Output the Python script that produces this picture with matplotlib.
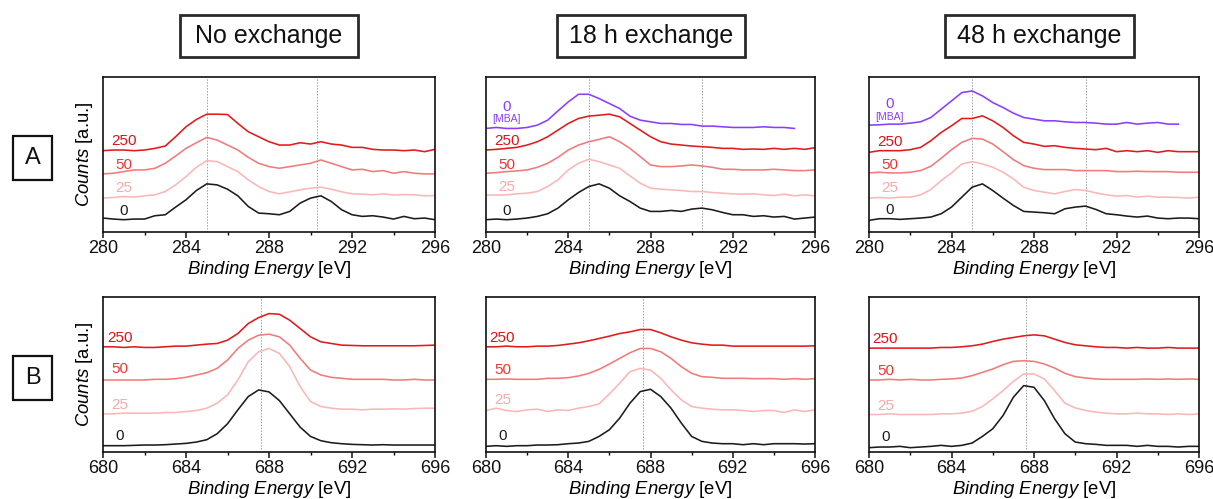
import numpy as np
import matplotlib
matplotlib.use("Agg")
import matplotlib.pyplot as plt
from matplotlib.patches import Rectangle

plt.rcParams['font.family'] = ['Liberation Sans', 'DejaVu Sans']
plt.rcParams['mathtext.fontset'] = 'custom'
plt.rcParams['mathtext.rm'] = 'Liberation Sans'
plt.rcParams['mathtext.it'] = 'Liberation Sans:italic'

# ---------------- data ----------------
energy_C = np.arange(280, 296.01, 0.5)      # C 1s region
energy_C_mba = np.arange(280, 295.01, 0.5)  # MBA reference spectrum (shorter)
energy_F = np.arange(680, 696.01, 0.5)      # F 1s region

col_titles = ["No exchange", "18 h exchange", "48 h exchange"]
row_labels = ["A", "B"]
series_labels = ["0", "25", "50", "250"]
x_ticks_C = [280, 284, 288, 292, 296]
x_ticks_F = [680, 684, 688, 692, 696]
ref_lines_C = [[285.0, 290.3], [285.0, 290.5], [285.0, 290.5]]
ref_lines_F = [687.6, 687.65, 687.63]

# Row A, no exchange
a_no_0 = [42,39,37,39,39,49,52,75,97,125,145,142,129,109,77,57,55,52,62,87,102,109,92,67,52,47,49,45,39,47,40,42,37]
a_no_25 = [102,104,107,105,109,112,122,142,167,195,215,212,197,182,157,137,122,115,121,127,132,135,129,121,115,114,112,115,111,113,112,109,110]
a_no_50 = [175,177,182,187,187,192,207,229,252,269,285,277,262,247,225,207,197,192,197,202,207,217,207,197,187,189,182,185,177,182,177,175,175]
a_no_250 = [245,247,247,245,247,252,259,287,317,339,355,355,354,327,302,287,272,262,262,269,265,272,265,262,255,255,249,247,247,245,247,242,249]

# Row A, 18 h exchange
a_18_mba = [312,315,312,312,315,322,337,365,392,415,415,402,387,372,349,337,332,327,327,324,324,319,319,317,315,315,315,317,315,315,312]
a_18_0 = [37,39,37,39,42,47,55,72,97,119,137,145,132,109,92,72,62,62,65,62,69,72,67,59,52,52,47,49,45,47,39,42,45]
a_18_25 = [112,111,112,115,117,122,137,157,187,207,219,212,202,192,169,147,132,129,127,125,122,122,119,117,115,114,115,112,110,114,109,112,109]
a_18_50 = [177,179,182,184,187,195,207,225,247,262,272,279,287,272,252,227,202,197,197,199,202,199,195,189,189,187,187,187,189,187,185,185,187]
a_18_250 = [247,249,252,255,262,272,287,307,327,342,349,352,355,347,327,307,287,272,265,262,259,257,255,252,252,249,250,249,252,249,252,249,254]

# Row A, 48 h exchange
a_48_mba = [322,323,325,325,328,332,345,370,395,420,425,410,390,375,358,345,340,335,335,332,330,330,328,325,325,330,325,328,330,325,325]
a_48_0 = [35,40,40,38,40,42,45,55,75,105,135,145,125,102,80,62,60,58,55,70,75,78,68,55,52,48,45,48,42,40,42,42,40]
a_48_25 = [102,104,102,105,105,112,128,155,178,205,212,205,195,180,160,135,125,120,115,122,128,125,118,112,108,110,105,108,105,105,104,102,105]
a_48_50 = [178,180,178,178,180,185,198,222,248,270,282,280,265,242,218,200,192,188,188,188,185,185,185,185,182,182,183,182,182,182,180,180,180]
a_48_250 = [240,245,245,245,248,255,275,300,320,342,342,350,335,315,290,270,265,258,260,255,252,250,248,252,242,245,242,245,240,245,242,242,242]

# Row B, no exchange
b_no_0 = [19,19,19,20,21,21,22,24,26,30,37,55,85,127,167,187,181,155,115,75,47,34,28,25,23,22,21,22,21,21,21,21,21]
b_no_25 = [115,115,117,117,117,117,119,119,122,125,132,147,172,217,272,302,312,297,257,197,152,137,132,129,129,127,129,129,130,129,131,132,132]
b_no_50 = [217,217,217,217,217,219,219,221,225,232,239,252,277,312,337,352,355,347,322,282,247,232,225,222,219,219,219,219,217,217,219,217,217]
b_no_250 = [317,317,315,317,315,315,317,319,319,322,325,327,337,357,387,405,417,415,397,372,347,332,327,322,321,320,320,320,320,320,320,321,322]

# Row B, 18 h exchange
b_18_0 = [17,19,17,19,19,21,21,22,25,27,32,47,67,102,147,182,189,167,132,87,47,32,27,25,25,22,25,22,25,25,25,24,25]
b_18_25 = [125,132,125,122,127,129,122,127,125,132,137,145,175,207,242,252,247,222,187,157,137,132,129,127,127,125,122,125,125,119,127,122,127]
b_18_50 = [219,219,220,219,219,219,222,222,224,229,237,249,265,282,299,312,312,302,282,257,237,227,225,222,222,222,221,221,221,219,221,219,221]
b_18_250 = [317,317,319,317,317,319,319,321,325,329,335,342,349,357,362,369,369,359,347,337,329,325,322,322,319,319,319,319,319,319,319,319,320]

# Row B, 48 h exchange
b_48_0 = [13,15,15,17,13,15,17,20,17,20,27,47,70,110,165,200,195,155,100,55,30,25,23,20,20,20,17,20,17,17,15,17,17]
b_48_25 = [113,113,115,113,113,113,113,115,115,117,123,137,160,185,213,235,235,220,185,147,133,125,120,117,115,115,117,115,115,113,115,113,115]
b_48_50 = [217,217,219,217,219,217,217,219,220,223,230,240,250,263,273,275,273,265,253,237,227,223,220,219,219,219,219,220,219,220,219,220,219]
b_48_250 = [313,313,313,313,313,313,313,315,315,317,320,325,333,340,345,350,353,350,340,330,323,320,317,315,315,313,315,313,313,315,313,313,313]

# ---------------- style ----------------
line_colors = ["#1c1c1c", "#fbb7b7", "#f37a7a", "#e31a1c"]
label_colors = ["#1c1c1c", "#f8aaaa", "#ee3535", "#d9141a"]
mba_color = "#8b3dff"

# label y-positions (text annotations) per panel: 0, 25, 50, 250, (0 MBA, [MBA])
label_y_A = [[62, 132, 202, 275], [62, 137, 202, 275, 377, 339], [66, 132, 202, 272, 385, 345]]
label_y_B = [[47, 142, 249, 342], [47, 157, 247, 342], [45, 140, 245, 340]]

fig = plt.figure(figsize=(12.13, 4.99), dpi=100)

lefts = [103 / 1213, 486 / 1213, 869 / 1213]
widths = [332 / 1213, 329 / 1213, 330 / 1213]
bottoms = [(499 - 232) / 499, (499 - 452) / 499]
height = 155 / 499

rowA = [[a_no_0, a_no_25, a_no_50, a_no_250, None],
        [a_18_0, a_18_25, a_18_50, a_18_250, a_18_mba],
        [a_48_0, a_48_25, a_48_50, a_48_250, a_48_mba]]
rowB = [[b_no_0, b_no_25, b_no_50, b_no_250],
        [b_18_0, b_18_25, b_18_50, b_18_250],
        [b_48_0, b_48_25, b_48_50, b_48_250]]

def style_axes(ax, xlo, xhi, ticks):
    ax.set_xlim(xlo, xhi)
    ax.set_ylim(0, 467)
    ax.set_yticks([])
    ax.set_xticks(ticks)
    ax.set_xticks(np.arange(xlo, xhi + 0.1, 2), minor=True)
    ax.tick_params(axis='x', which='major', direction='out', length=4, width=1.1,
                   labelsize=13, pad=2, colors='#111111')
    ax.tick_params(axis='x', which='minor', direction='out', length=2.5, width=1.0)
    for s in ax.spines.values():
        s.set_linewidth(1.2)
        s.set_color('#111111')
    ax.set_xlabel(r'$Binding\ Energy$ [eV]', fontsize=13.3, labelpad=1)

for c in range(3):
    ax = fig.add_axes([lefts[c], bottoms[0], widths[c], height])
    series = rowA[c]
    for i in range(4):
        ax.plot(energy_C, series[i], color=line_colors[i], lw=1.15)
    if series[4] is not None:
        ax.plot(energy_C_mba, series[4], color=mba_color, lw=1.15)
    for xv in ref_lines_C[c]:
        ax.axvline(xv, color='#a0a0a0', lw=0.7, ls=(0, (1.5, 1.5)), zorder=0)
    style_axes(ax, 280, 296, x_ticks_C)
    ly = label_y_A[c]
    for i in range(4):
        ax.text(281.0, ly[i], series_labels[i], color=label_colors[i], fontsize=11,
                ha='center', va='center')
    if series[4] is not None:
        ax.text(281.0, ly[4], "0", color=mba_color, fontsize=11, ha='center', va='center')
        ax.text(281.0, ly[5], "[MBA]", color=mba_color, fontsize=7.5, ha='center', va='center')
    if c == 0:
        ax.set_ylabel(r'$Counts$ [a.u.]', fontsize=13.3, labelpad=6)

for c in range(3):
    ax = fig.add_axes([lefts[c], bottoms[1], widths[c], height])
    series = rowB[c]
    for i in range(4):
        ax.plot(energy_F, series[i], color=line_colors[i], lw=1.15)
    ax.axvline(ref_lines_F[c], color='#a0a0a0', lw=0.7, ls=(0, (1.5, 1.5)), zorder=0)
    style_axes(ax, 680, 696, x_ticks_F)
    ly = label_y_B[c]
    for i in range(4):
        ax.text(680.8, ly[i], series_labels[i], color=label_colors[i], fontsize=11,
                ha='center', va='center')
    if c == 0:
        ax.set_ylabel(r'$Counts$ [a.u.]', fontsize=13.3, labelpad=6)

# column title boxes
title_boxes = [(180, 358), (557, 745), (945, 1134)]
for (x0, x1), t in zip(title_boxes, col_titles):
    fig.patches.append(Rectangle((x0 / 1213, 1 - 57 / 499), (x1 - x0) / 1213, 42 / 499,
                                 transform=fig.transFigure, fill=False,
                                 edgecolor='#2a2a2a', lw=2.0))
    fig.text((x0 + x1) / 2 / 1213, 1 - 36 / 499, t, fontsize=18, ha='center',
             va='center', color='#111111')

# row label boxes
row_boxes = [(136, 180), (356, 400)]
for (y0, y1), t in zip(row_boxes, row_labels):
    fig.patches.append(Rectangle((13 / 1213, 1 - y1 / 499), 39 / 1213, (y1 - y0) / 499,
                                 transform=fig.transFigure, fill=False,
                                 edgecolor='#111111', lw=1.6))
    fig.text(32.5 / 1213, 1 - (y0 + y1) / 2 / 499, t, fontsize=17, ha='center',
             va='center', color='#111111')

fig.savefig("out.png", dpi=100)
